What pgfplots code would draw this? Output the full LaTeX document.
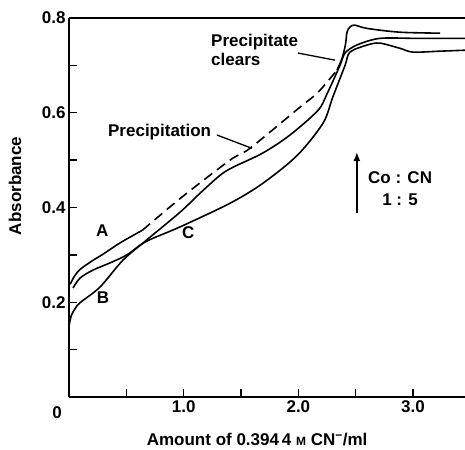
\documentclass[border=0pt]{standalone}
\usepackage{fontspec}
\setmainfont{Liberation Sans}
\usepackage{pgfplots}
\pgfplotsset{compat=1.18}
\usetikzlibrary{arrows.meta}
\begin{document}
\begin{tikzpicture}[font=\bfseries\fontsize{17}{20}\selectfont]
\begin{axis}[
  at={(0,0)}, anchor=south west, scale only axis,
  width=396pt, height=379pt,
  xmin=0, xmax=3.453, ymin=0, ymax=0.8,
  axis x line*=bottom, axis y line*=left,
  axis line style={line width=1.5pt, -},
  tick align=inside,
  major tick length=8pt,
  tick style={line width=1.3pt, black},
  xtick={0,0.5,1,1.5,2,2.5,3}, xticklabels={,,1.0,,2.0,,3.0},
  ytick={0,0.1,0.2,0.3,0.4,0.5,0.6,0.7,0.8}, yticklabels={,,0.2,,0.4,,0.6,,0.8},
  xlabel={Amount of 0.394\,4 {\fontsize{12}{14}\selectfont M} CN\textsuperscript{−}/ml},
  xlabel style={at={(axis description cs:0.475,0)}, anchor=center, yshift=-43pt},
  clip=false,
]
% curve A: solid start
\addplot[black, line width=1.6pt, smooth] coordinates {
(0.01,0.238) (0.05,0.256) (0.1,0.270) (0.2,0.287) (0.3,0.302) (0.45,0.326) (0.64,0.352)};
% curve A: dashed part
\addplot[black, line width=1.6pt, smooth, dash pattern=on 10pt off 6pt] coordinates {
(0.64,0.352) (0.985,0.422) (1.404,0.500) (1.578,0.525) (2.015,0.612) (2.171,0.643) (2.337,0.690)};
% curve A: after precipitate clears
\addplot[black, line width=1.6pt, smooth] coordinates {
(2.337,0.690) (2.381,0.715) (2.41,0.743) (2.424,0.770) (2.45,0.781) (2.49,0.785) (2.6,0.778) (2.886,0.770) (3.235,0.768)};
% curve B
\addplot[black, line width=1.6pt, smooth] coordinates {
(0.0,0.150) (0.02,0.172) (0.052,0.186) (0.096,0.199) (0.27,0.232) (0.471,0.289) (0.67,0.330)
(0.968,0.390) (1.142,0.430) (1.317,0.468) (1.43,0.485) (1.69,0.515) (1.927,0.553)
(2.171,0.605) (2.25,0.640) (2.363,0.700) (2.407,0.726) (2.51,0.743) (2.71,0.757) (3.03,0.757) (3.453,0.757)};
% curve C
\addplot[black, line width=1.6pt, smooth] coordinates {
(0.035,0.230) (0.096,0.251) (0.21,0.268) (0.357,0.283) (0.505,0.300) (0.67,0.328)
(0.968,0.359) (1.404,0.409) (1.69,0.451) (1.99,0.510) (2.215,0.578) (2.30,0.633)
(2.407,0.700) (2.45,0.728) (2.6,0.743) (2.71,0.747) (2.886,0.736) (3.0,0.728) (3.235,0.730) (3.453,0.732)};
% top frame line
\draw[line width=1.5pt] (rel axis cs:0,1) -- (rel axis cs:1,1);
% y label
\path (axis description cs:0,0.557) ++(-54pt,0) node[rotate=90, anchor=center] {Absorbance};
% origin label
\node[anchor=north, xshift=-12pt, yshift=-5.7pt] at (axis cs:0,0) {0};
% curve labels
\node at (axis cs:0.29,0.352) {A};
\node at (axis cs:0.296,0.209) {B};
\node at (axis cs:1.04,0.346) {C};
% annotations
\node[anchor=east] at (axis cs:1.27,0.559) {Precipitation};
\draw[line width=1.3pt] (axis cs:1.29,0.553) -- (axis cs:1.595,0.525);
\node[anchor=west, align=left, inner sep=0pt, font=\bfseries\fontsize{17}{19}\selectfont] at (axis cs:1.238,0.732) {Precipitate\\clears};
\draw[line width=1.3pt] (axis cs:1.997,0.726) -- (axis cs:2.32,0.711);
\draw[-{Latex[length=9pt,width=7pt]}, line width=1.4pt] (axis cs:2.51,0.388) -- (axis cs:2.51,0.517);
\node[align=center, font=\bfseries\fontsize{17}{22}\selectfont] at (axis cs:2.887,0.44) {Co : CN\\1 : 5};
\end{axis}
\pgfresetboundingbox
\path (-69pt,-52pt) rectangle (396pt,397pt);
\end{tikzpicture}
\end{document}
